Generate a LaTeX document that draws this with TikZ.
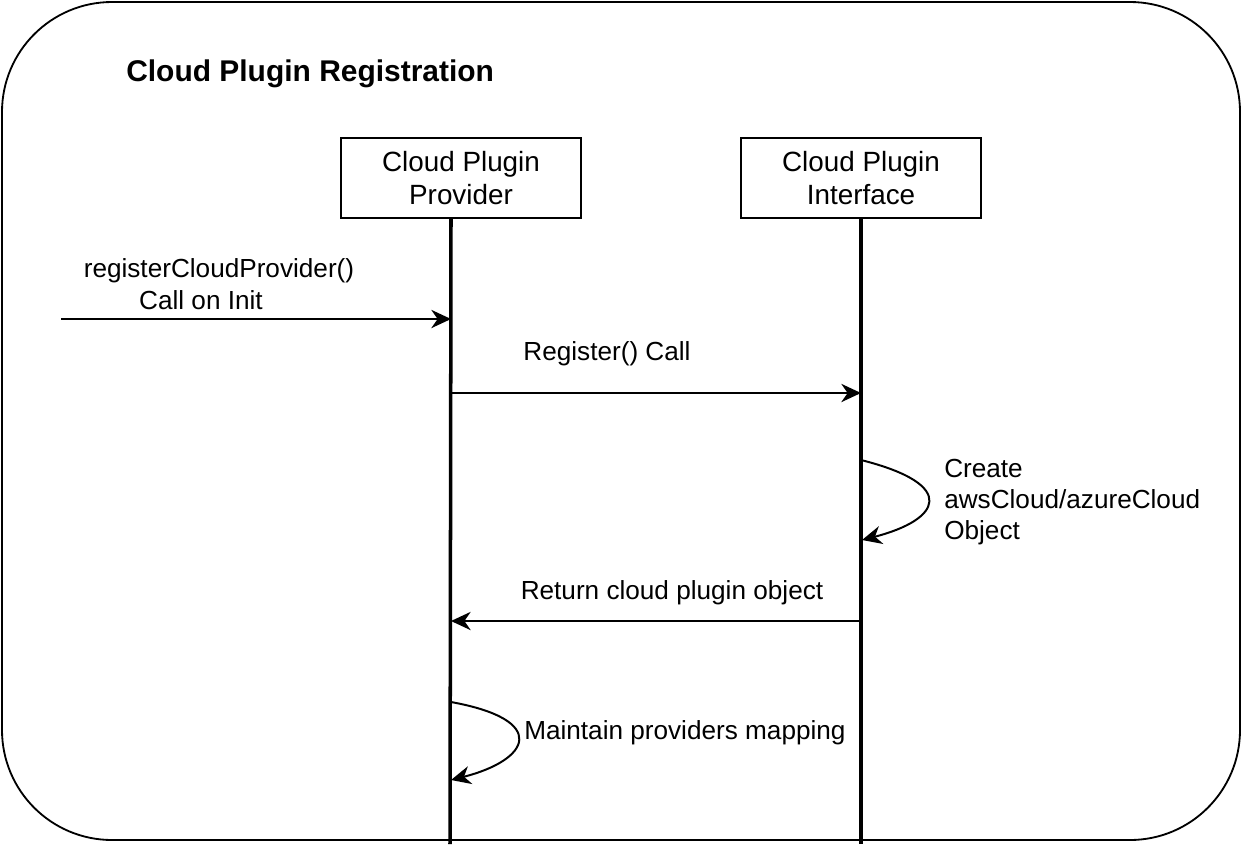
\documentclass[tikz,border=0pt]{standalone}
\usepackage{fontspec}
\setmainfont{Liberation Sans}
\usetikzlibrary{arrows.meta,positioning}

\tikzset{
  party/.style={draw,line width=1.3pt,minimum width=6cm,minimum height=2cm,align=center,inner sep=0pt,
    font=\fontsize{19.8}{23.5}\selectfont},
  lifeline/.style={line width=2.5pt},
  msg/.style={line width=1.4pt,-{Stealth[length=14pt,width=13pt,inset=4.5pt]}},
  lbl/.style={inner sep=0pt}
}

\begin{document}
\begin{tikzpicture}[x=0.025cm,y=-0.025cm,
  every node/.style={font=\fontsize{18.6}{22.5}\selectfont}]
\useasboundingbox (0,0) rectangle (1242,850);

% frame and title
\draw[line width=1.3pt,rounded corners=2.75cm] (2,2) rectangle (1240,840);
\node[lbl,anchor=west,font=\fontsize{21.3}{25}\selectfont\bfseries] (title) at (126,74) {Cloud Plugin Registration};

% participants
\node[party] (prov) at (461,178) {Cloud Plugin\\Provider};
\node[party] (iface) at (861,178) {Cloud Plugin\\Interface};

\coordinate (provTop) at (451,218);
\coordinate (provEnd) at (450,844);
\coordinate (ifaceEnd) at (861,844);
\draw[lifeline] (provTop) -- (provEnd);
\draw[lifeline] (iface.south) -- (ifaceEnd);

% message points
\coordinate (ext) at (61,319);
\coordinate (p1) at (451,319);
\coordinate (p2) at (451,393);
\coordinate (i2) at (861,393);
\coordinate (i3a) at (861,460);
\coordinate (i3b) at (862,540);
\coordinate (i4) at (861,621);
\coordinate (p4) at (451,621);
\coordinate (p5a) at (451,702);
\coordinate (p5b) at (451,780);

\draw[msg] (ext) -- (p1);
\draw[msg] (p2) -- (i2);
\draw[msg] (i3a) .. controls (960,485) and (940,520) .. (i3b);
\draw[msg] (i4) -- (p4);
\draw[msg] (p5a) .. controls (550,720) and (530,760) .. (p5b);

% labels
\node[lbl,align=center] (initLbl) at (219,284) {registerCloudProvider()\\Call on Init\hspace*{0.9cm}};
\node[lbl] (regLbl) at (607,354) {Register() Call};
\node[lbl,anchor=west,align=left,font=\fontsize{18.6}{21.8}\selectfont] (createLbl) at (944,502) {Create\\awsCloud/azureCloud\\Object};
\node[lbl] (retLbl) at (672,593) {Return cloud plugin object};
\node[lbl,anchor=west] (mapLbl) at (524,733) {Maintain providers mapping};
\end{tikzpicture}
\end{document}
